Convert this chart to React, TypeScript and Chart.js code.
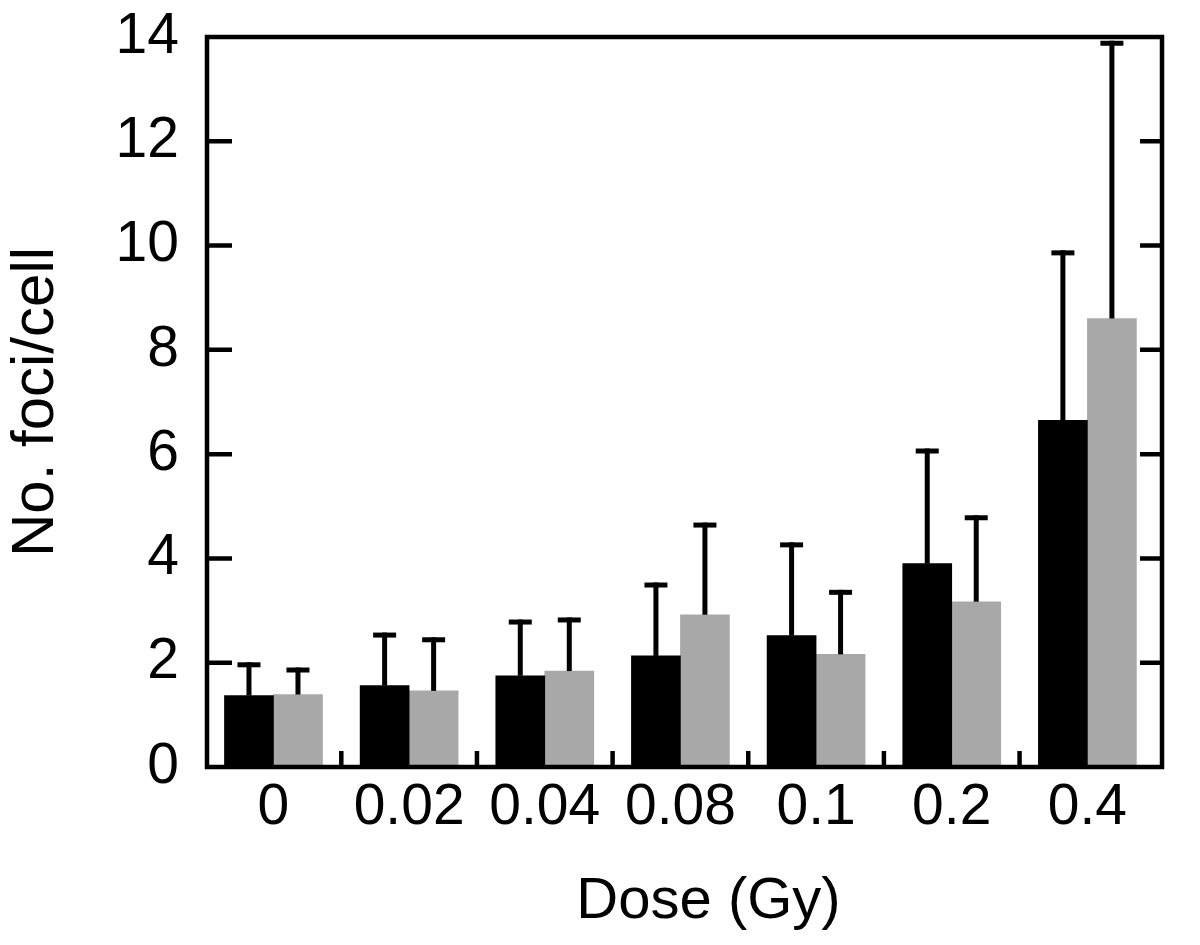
import React, { useEffect, useRef } from 'react';
import { Chart, registerables } from 'chart.js';

Chart.register(...registerables);

// ---- data ----
const doseLabels = ['0', '0.02', '0.04', '0.08', '0.1', '0.2', '0.4'];
const blackMeans = [1.37, 1.56, 1.75, 2.13, 2.52, 3.9, 6.65];
const blackErrors = [0.59, 0.97, 1.03, 1.36, 1.74, 2.16, 3.21];
const grayMeans = [1.39, 1.46, 1.84, 2.92, 2.16, 3.17, 8.6];
const grayErrors = [0.47, 0.98, 0.98, 1.72, 1.19, 1.61, 5.28];
const yTickValues = [0, 2, 4, 6, 8, 10, 12, 14];
const xAxisTitle = 'Dose (Gy)';
const yAxisTitle = 'No. foci/cell';

const FONT = "'Liberation Sans', Arial, Helvetica, sans-serif";

const framePlugin = {
  id: 'frameAndErrors',
  afterDatasetsDraw(chart: any) {
    const ctx = chart.ctx;
    const yScale = chart.scales.y;
    ctx.save();
    ctx.strokeStyle = '#000';
    ctx.lineCap = 'butt';
    chart.data.datasets.forEach((ds: any, d: number) => {
      const meta = chart.getDatasetMeta(d);
      meta.data.forEach((bar: any, i: number) => {
        const v = ds.data[i].y;
        const err = ds.errors[i];
        const top = yScale.getPixelForValue(v + err);
        ctx.lineWidth = 5;
        ctx.beginPath();
        ctx.moveTo(bar.x, bar.y);
        ctx.lineTo(bar.x, top - 2.5);
        ctx.stroke();
        ctx.beginPath();
        ctx.moveTo(bar.x - 11.5, top);
        ctx.lineTo(bar.x + 11.5, top);
        ctx.stroke();
      });
    });
    ctx.restore();
  },
  afterDraw(chart: any) {
    const ctx = chart.ctx;
    const { left, right, top, bottom } = chart.chartArea;
    const yScale = chart.scales.y;
    const xScale = chart.scales.x;
    ctx.save();
    ctx.strokeStyle = '#000';
    ctx.lineWidth = 4.5;
    ctx.lineJoin = 'miter';
    ctx.strokeRect(left, top, right - left, bottom - top);
    // inward ticks left / right
    yTickValues.forEach((v) => {
      if (v === 0 || v === 14) return;
      const py = yScale.getPixelForValue(v);
      ctx.beginPath();
      ctx.moveTo(left, py);
      ctx.lineTo(left + 25, py);
      ctx.moveTo(right, py);
      ctx.lineTo(right - 22, py);
      ctx.stroke();
    });
    // inward ticks at the bottom between groups
    for (let k = 0; k < doseLabels.length - 1; k++) {
      const px = xScale.getPixelForValue(k + 0.5);
      ctx.beginPath();
      ctx.moveTo(px, bottom);
      ctx.lineTo(px, bottom - 16);
      ctx.stroke();
    }
    // x-axis title
    ctx.fillStyle = '#000';
    ctx.font = `58px ${FONT}`;
    ctx.textAlign = 'center';
    ctx.textBaseline = 'alphabetic';
    ctx.fillText(xAxisTitle, (left + right) / 2 + 24, bottom + 151);
    ctx.restore();
  },
};

export default function App() {
  const canvasRef = useRef<HTMLCanvasElement | null>(null);

  useEffect(() => {
    if (!canvasRef.current) return;
    const chart = new Chart(canvasRef.current, {
      type: 'bar',
      data: {
        datasets: [
          {
            label: 'black',
            data: blackMeans.map((v, i) => ({ x: i, y: v })),
            errors: blackErrors,
            backgroundColor: '#000000',
            borderWidth: 0,
            barThickness: 49,
          } as any,
          {
            label: 'gray',
            data: grayMeans.map((v, i) => ({ x: i, y: v })),
            errors: grayErrors,
            backgroundColor: '#a8a8a8',
            borderWidth: 0,
            barThickness: 49,
          } as any,
        ],
      },
      options: {
        animation: false,
        responsive: false,
        maintainAspectRatio: false,
        devicePixelRatio: 1,
        layout: { padding: { left: 0, top: 37, right: 38, bottom: 0 } },
        plugins: {
          legend: { display: false },
          tooltip: { enabled: false },
        },
        scales: {
          x: {
            type: 'linear',
            position: 'bottom',
            min: -0.49,
            max: 6.55,
            bounds: 'data',
            offset: false,
            grid: { display: false, drawTicks: false },
            border: { display: false },
            afterBuildTicks: (scale: any) => {
              scale.ticks = doseLabels.map((_, i) => ({ value: i }));
            },
            afterFit: (scale: any) => {
              scale.height = 178;
              scale.paddingLeft = 0;
              scale.paddingRight = 0;
            },
            ticks: {
              autoSkip: false,
              maxRotation: 0,
              minRotation: 0,
              padding: 7,
              color: '#000',
              font: { family: FONT, size: 57 },
              callback: (value: any) => doseLabels[Math.round(Number(value))],
            },
          },
          y: {
            type: 'linear',
            position: 'left',
            min: 0,
            max: 14,
            grid: { display: false, drawTicks: false },
            border: { display: false },
            afterBuildTicks: (scale: any) => {
              scale.ticks = yTickValues.map((v) => ({ value: v }));
            },
            afterFit: (scale: any) => {
              scale.width = 207;
              scale.paddingTop = 0;
              scale.paddingBottom = 0;
            },
            ticks: {
              padding: 28,
              color: '#000',
              font: { family: FONT, size: 57 },
            },
            title: {
              display: true,
              text: yAxisTitle,
              color: '#000',
              font: { family: FONT, size: 60 },
              padding: { top: 0, bottom: 0 },
            },
          },
        },
      } as any,
      plugins: [framePlugin],
    });
    return () => chart.destroy();
  }, []);

  return (
    <div style={{ position: 'fixed', left: 0, top: 0, width: 1200, height: 945, background: '#fff' }}>
      <canvas ref={canvasRef} width={1200} height={945} style={{ display: 'block' }} />
    </div>
  );
}
